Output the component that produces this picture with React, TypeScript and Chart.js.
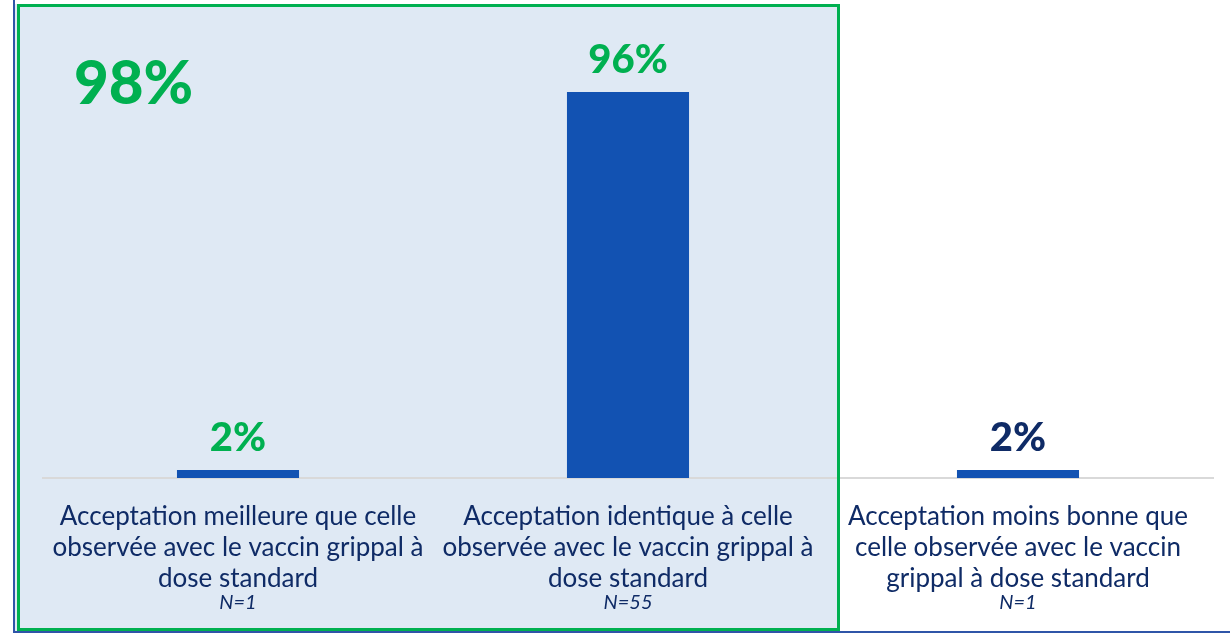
import React, { useEffect, useRef } from 'react';
import { Chart, registerables } from 'chart.js';

Chart.register(...registerables);

const categories: string[][] = [
  ['Acceptation meilleure que celle', 'observée avec le vaccin grippal à', 'dose standard'],
  ['Acceptation identique à celle', 'observée avec le vaccin grippal à', 'dose standard'],
  ['Acceptation moins bonne que', 'celle observée avec le vaccin', 'grippal à dose standard'],
];
const sampleSizes = ['N=1', 'N=55', 'N=1'];
const values = [2, 96, 2];
const valueLabels = ['2%', '96%', '2%'];
const valueLabelColors = ['#00B050', '#00B050', '#0F2B66'];
const groupTotalLabel = '98%';

const FONT = 'Lato, "Noto Sans", sans-serif';
const NAVY = '#0F2B66';

const decorPlugin = {
  id: 'decor',
  beforeDraw(chart: any) {
    const { ctx, width, height } = chart;
    ctx.save();
    ctx.fillStyle = '#ffffff';
    ctx.fillRect(0, 0, width, height);
    ctx.fillStyle = '#DFE9F4';
    ctx.fillRect(14, 4, 826, 628);
    ctx.restore();
  },
  afterDraw(chart: any) {
    const { ctx } = chart;
    const xScale = chart.scales.x;
    const bottom = chart.chartArea.bottom;
    ctx.save();
    // group frame
    ctx.strokeStyle = '#00B050';
    ctx.lineWidth = 3;
    ctx.strokeRect(18.5, 5.5, 820, 624);
    // outer blue lines
    ctx.strokeStyle = '#2F55A8';
    ctx.lineWidth = 2;
    ctx.beginPath();
    ctx.moveTo(14, 0);
    ctx.lineTo(14, 633);
    ctx.moveTo(13, 632);
    ctx.lineTo(1230, 632);
    ctx.stroke();

    // category labels
    ctx.textAlign = 'center';
    ctx.textBaseline = 'middle';
    categories.forEach((lines, i) => {
      const x = xScale.getPixelForValue(i);
      ctx.fillStyle = NAVY;
      ctx.font = `26px ${FONT}`;
      lines.forEach((line, j) => {
        ctx.fillText(line, x, bottom + 39 + j * 31);
      });
      ctx.font = `italic 20px ${FONT}`;
      ctx.fillText(sampleSizes[i], x, bottom + 125);
    });

    // value labels
    const meta = chart.getDatasetMeta(0);
    ctx.textBaseline = 'alphabetic';
    ctx.font = `900 40px ${FONT}`;
    meta.data.forEach((bar: any, i: number) => {
      ctx.fillStyle = valueLabelColors[i];
      ctx.fillText(valueLabels[i], bar.x, bar.y - 19);
    });

    // group total
    ctx.textAlign = 'left';
    ctx.fillStyle = '#00B050';
    ctx.font = `900 60px ${FONT}`;
    ctx.fillText(groupTotalLabel, 74, 104);
    ctx.restore();
  },
};

export default function App() {
  const ref = useRef<HTMLCanvasElement | null>(null);
  useEffect(() => {
    if (!ref.current) return;
    const chart = new Chart(ref.current, {
      type: 'bar',
      data: {
        labels: categories.map((c) => c.join(' ')),
        datasets: [
          {
            data: values,
            backgroundColor: '#1252B2',
            barPercentage: 0.313,
            categoryPercentage: 1,
          },
        ],
      },
      options: {
        animation: false,
        responsive: false,
        maintainAspectRatio: false,
        layout: { padding: { left: 43, right: 17, top: 76, bottom: 147 } },
        plugins: { legend: { display: false }, tooltip: { enabled: false } },
        scales: {
          x: {
            grid: { display: false },
            ticks: { display: false },
            border: { display: true, color: '#D9D9D9', width: 2 },
          },
          y: {
            display: false,
            min: 0,
            max: 100,
          },
        },
      },
      plugins: [decorPlugin],
    });
    return () => chart.destroy();
  }, []);
  return (
    <div style={{ position: 'absolute', left: 0, top: 0, width: 1230, height: 633 }}>
      <canvas ref={ref} width={1230} height={633} style={{ display: 'block' }} />
    </div>
  );
}
